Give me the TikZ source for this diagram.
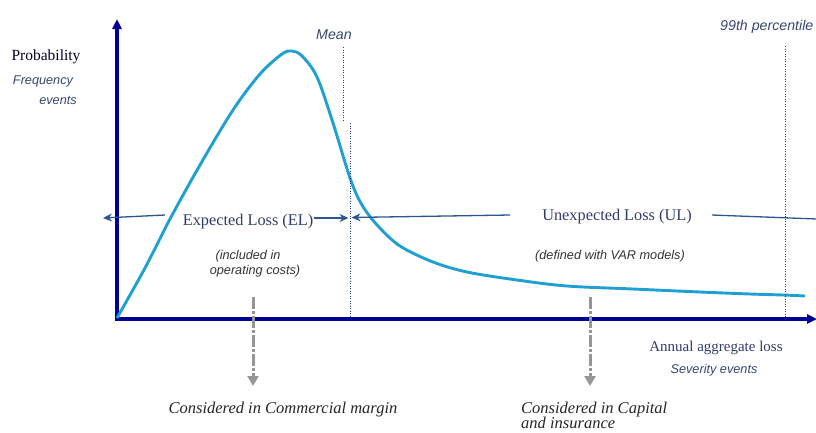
\documentclass[tikz,border=0pt]{standalone}
\usepackage{fontspec}
\setmainfont{Liberation Serif}
\setsansfont{Liberation Sans}
\usetikzlibrary{arrows.meta}
\definecolor{axisblue}{RGB}{0,0,150}
\definecolor{curveblue}{RGB}{30,160,210}
\definecolor{dotblue}{RGB}{40,60,130}
\definecolor{lineblue}{RGB}{45,85,145}
\definecolor{txtblue}{RGB}{50,60,105}
\definecolor{labgrey}{RGB}{55,70,110}
\definecolor{arrgrey}{RGB}{150,150,150}
\tikzset{
  axisline/.style={draw=axisblue, line width=3.5pt, -{Triangle[width=9pt,length=10pt]}},
  pdfcurve/.style={draw=curveblue, line width=2.9pt, line join=round},
  dotline/.style={draw=dotblue, line width=0.8pt, dash pattern=on 1pt off 1.5pt},
  rangeline/.style={draw=lineblue, line width=1.3pt},
  rangearrow/.style={rangeline, -{Stealth[width=8pt,length=9pt]}},
  greyarrow/.style={draw=arrgrey, line width=3pt, dash pattern=on 12pt off 2pt on 3pt off 2pt, -{Triangle[width=11pt,length=10pt]}},
  serlab/.style={font=\fontsize{16.3}{19}\selectfont, text=txtblue, inner sep=0pt},
  sanslab/.style={font=\sffamily\itshape\fontsize{12.7}{15}\selectfont, text=labgrey, inner sep=0pt},
  conslab/.style={font=\itshape\fontsize{16.5}{20}\selectfont, text=black!85, inner sep=0pt}
}
\begin{document}
\begin{tikzpicture}[x=1pt,y=-1pt]
\useasboundingbox (0,0) rectangle (816,432);
% axes
\coordinate (origin) at (117,319);
\coordinate (ytop) at (117,19);
\coordinate (xend) at (817,319);
\draw[axisline] (origin) -- (ytop);
\draw[axisline] ([xshift=-1.75pt]origin) -- (xend);
% curve
\draw[pdfcurve] plot[smooth, tension=0.55] coordinates {
 (117,318) (145,268) (170,219) (200,165) (233,110) (260,74) (282,54) (292,51) (302,56)
 (317,77) (333,123) (350,178) (362,205) (378,226) (400,246) (433,262) (467,272)
 (517,280) (567,286) (633,289) (700,292) (750,294) (783,295) (805,296)};
% mean / percentile lines
\coordinate (m1t) at (343,47); \coordinate (m1b) at (343,122);
\coordinate (m2t) at (350,123); \coordinate (m2b) at (350,318);
\coordinate (p99t) at (785,46); \coordinate (p99b) at (785,318);
\draw[dotline] (m1t) -- (m1b);
\draw[dotline] (m2t) -- (m2b);
\draw[dotline] (p99t) -- (p99b);
\node[sanslab, font=\sffamily\itshape\fontsize{14.2}{16}\selectfont] (mean) at (334,35) {Mean};
\node[sanslab, font=\sffamily\itshape\fontsize{14.2}{16}\selectfont, anchor=west] (pct) at (720,27) {99th percentile};
% axis labels
\node[serlab, font=\fontsize{15.5}{18}\selectfont, text=black!75!blue!60!black] (prob) at (46,57) {Probability};
\node[sanslab] (freq) at (43,81) {Frequency};
\node[sanslab] (fev) at (58,100) {events};
\node[serlab, font=\fontsize{15}{18}\selectfont] (annual) at (716,348) {Annual aggregate loss};
\node[sanslab] (sev) at (714,370) {Severity events};
% EL / UL
\node[serlab] (el) at (248,222) {Expected Loss (EL)};
\node[serlab] (ul) at (617,217) {Unexpected Loss (UL)};
\coordinate (elLs) at (165,215); \coordinate (elLe) at (103,218);
\coordinate (elRs) at (314,218); \coordinate (elRe) at (348.5,218);
\coordinate (ulLs) at (510,215); \coordinate (ulLe) at (351.5,217.5);
\coordinate (ulRs) at (712,215); \coordinate (ulRe) at (817,219);
\draw[rangearrow] (elLs) -- (elLe);
\draw[rangearrow] (elRs) -- (elRe);
\draw[rangearrow] (ulLs) -- (ulLe);
\draw[rangeline] (ulRs) -- (ulRe);
\node[sanslab, text=black!80] (inc1) at (248,256) {(included in};
\node[sanslab, text=black!80] (inc2) at (255,271) {operating costs)};
\node[sanslab, text=black!80] (var) at (610,256) {(defined with VAR models)};
% grey arrows
\coordinate (g1s) at (253,297); \coordinate (g1e) at (253,386);
\coordinate (g2s) at (590,297); \coordinate (g2e) at (590,386);
\draw[greyarrow] (g1s) -- (g1e);
\draw[greyarrow] (g2s) -- (g2e);
\node[conslab] (comm) at (283,410) {Considered in Commercial margin};
\node[conslab, font=\itshape\fontsize{16.5}{15}\selectfont, anchor=north west, align=left] (cap) at (521,401.5) {Considered in Capital\\and insurance};
\end{tikzpicture}
\end{document}
